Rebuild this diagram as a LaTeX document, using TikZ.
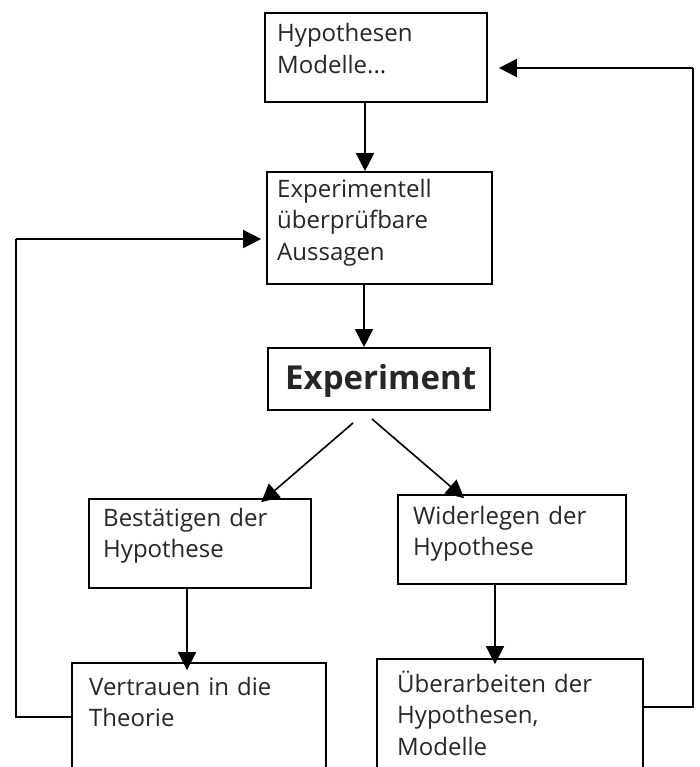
\documentclass[tikz,border=0pt]{standalone}
\usepackage{fontspec}
\setmainfont{Open Sans}
\usetikzlibrary{arrows.meta,fit}
\begin{document}
\begin{tikzpicture}[x=1pt,y=-1pt,
  box/.style={draw, line width=1.7pt, inner sep=0pt},
  txt/.style={anchor=base west, inner sep=0pt, align=left, text width=250pt,
    font=\fontsize{24}{31.5}\selectfont, text=black!85},
  arr/.style={line width=1.6pt, -{Triangle[length=18pt,width=18pt]}},
  ln/.style={line width=1.6pt}]
\useasboundingbox (0,0) rectangle (700,767);
\clip (0,0) rectangle (700,767);
% boxes
\node[box, fit={(265,13) (487,102)}] (h) {};
\node[box, fit={(267,172) (492,284)}] (s) {};
\node[box, fit={(268,348) (490,410)}] (e) {};
\node[box, fit={(89,499) (311,588)}] (b) {};
\node[box, fit={(398,495) (626,584)}] (w) {};
\node[box, fit={(72,663) (326,820)}] (v) {};
\node[box, fit={(377,659) (643,820)}] (u) {};
% texts
\node[txt] (ht) at (277,42) {Hypothesen\\Modelle...};
\node[txt] (st) at (277,197) {Experimentell\\überprüfbare\\Aussagen};
\node[anchor=base west, inner sep=0pt, font=\bfseries\fontsize{33}{40}\selectfont, text=black!85] (et) at (285,389) {Experiment};
\node[txt] (bt) at (103,526) {Bestätigen der\\Hypothese};
\node[txt] (wt) at (413,524) {Widerlegen der\\Hypothese};
\node[txt] (vt) at (89,695) {Vertrauen in die\\Theorie};
\node[txt] (ut) at (397,692) {Überarbeiten der\\Hypothesen,\\Modelle};
% vertical arrows
\draw[arr] ([xshift=-11pt]h.south) -- ([xshift=-11pt]h.south |- s.north);
\draw[arr] ([xshift=-15.5pt]s.south) -- ([xshift=-15.5pt]s.south |- e.north);
\draw[arr] ([xshift=-13pt]b.south) -- ([xshift=-13pt,yshift=-8pt]b.south |- v.north);
\draw[arr] ([xshift=-17pt]w.south) -- ([xshift=-17pt,yshift=-6pt]w.south |- u.north);
% diagonal arrows
\coordinate (d1) at (353,423);
\coordinate (d2) at (372,419);
\draw[arr] (d1) -- ([xshift=173pt,yshift=-4pt]b.north west);
\draw[arr] (d2) -- ([xshift=67pt,yshift=-4pt]w.north west);
% feedback loops
\coordinate (lb) at (16,717);
\coordinate (lt) at (16,239);
\draw[ln] (lb -| v.west) -- (lb) -- (lt);
\draw[arr] (lt) -- ([xshift=-5pt]lt -| s.west);
\coordinate (rb) at (693,707);
\coordinate (rt) at (693,68);
\draw[ln] (rb -| u.east) -- (rb) -- (rt);
\draw[arr] (rt) -- ([xshift=11pt]rt -| h.east);
\end{tikzpicture}
\end{document}
